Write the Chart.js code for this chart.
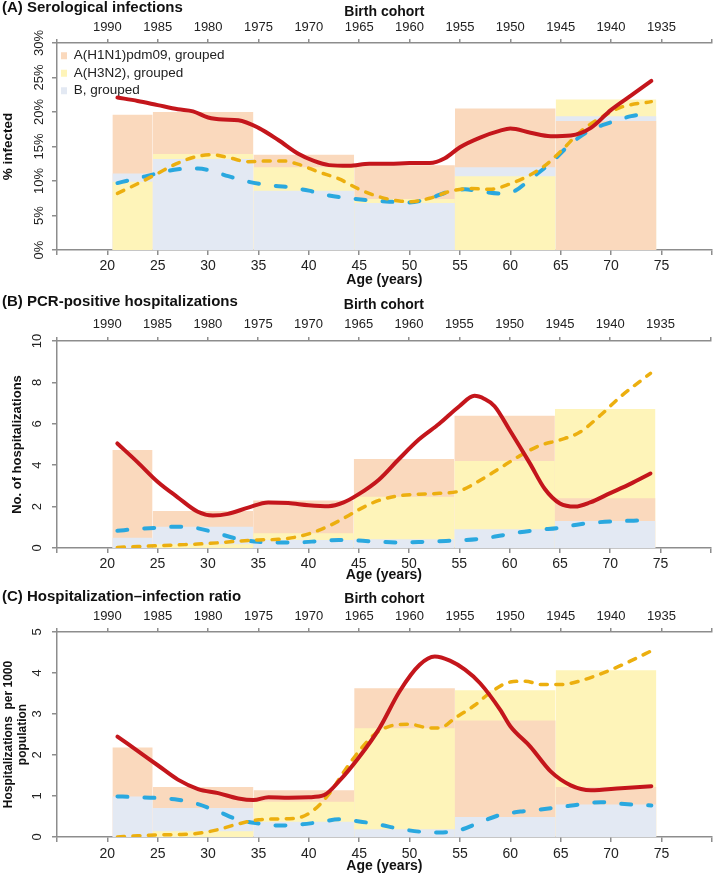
<!DOCTYPE html>
<html>
<head>
<meta charset="utf-8">
<script src="https://cdn.jsdelivr.net/npm/chart.js@4.4.1/dist/chart.umd.min.js"></script>
<style>
  body { margin: 0; background: #fff; }
  #wrap { position: relative; width: 716px; height: 875px; overflow: hidden; }
  #wrap canvas { position: absolute; left: 0; }
</style>
</head>
<body>
<div id="wrap">
  <canvas id="panelA" width="716" height="292" style="top:0px"></canvas>
  <canvas id="panelB" width="716" height="295" style="top:290px"></canvas>
  <canvas id="panelC" width="716" height="295" style="top:580px"></canvas>
</div>
<script>
// Age groups used for the grouped bars (bin edges, years)
const AGE_BIN_EDGES = [20.5, 24.5, 34.5, 44.5, 54.5, 64.5, 74.5];
const AGE_TICKS = [20, 25, 30, 35, 40, 45, 50, 55, 60, 65, 70, 75];
const BIRTH_TICKS = [1990, 1985, 1980, 1975, 1970, 1965, 1960, 1955, 1950, 1945, 1940, 1935];
const SERIES_NAMES = ['A(H1N1)pdm09, grouped', 'A(H3N2), grouped', 'B, grouped'];

// (A) Serological infections, %
const SERO_Y_TICKS = [0, 5, 10, 15, 20, 25, 30];
const SERO_H1N1_BARS = [19.6, 20.0, 13.8, 12.3, 20.5, 18.7];
const SERO_H3N2_BARS = [9.9, 13.9, 12.0, 7.4, 10.7, 21.8];
const SERO_B_BARS = [11.1, 13.2, 8.6, 6.8, 12.0, 19.4];
const SERO_H1N1_AGE = [21, 23, 25, 27, 28.5, 30, 31.5, 33, 35, 37, 39, 40.5, 42, 44, 46, 48, 50, 52, 53.5, 55, 57, 59, 60, 62, 64, 66, 68, 70, 72, 74];
const SERO_H1N1_LINE = [22.1, 21.6, 21.0, 20.4, 20.1, 19.2, 18.9, 18.8, 17.7, 15.9, 13.9, 12.9, 12.3, 12.2, 12.5, 12.5, 12.6, 12.6, 13.3, 14.9, 16.3, 17.3, 17.6, 17.0, 16.5, 16.6, 17.7, 20.3, 22.4, 24.5];
const SERO_H3N2_AGE = [21, 23, 25, 27, 29, 30.5, 32, 34, 36, 37.5, 39, 41, 43, 45, 47, 49, 50, 52, 54, 56, 58, 60, 62, 63.5, 65, 67, 69, 71, 74];
const SERO_H3N2_LINE = [8.2, 9.6, 11.1, 12.6, 13.6, 13.8, 13.4, 12.8, 12.9, 12.9, 12.4, 11.3, 10.3, 8.8, 7.7, 7.1, 7.0, 7.5, 8.5, 8.9, 8.8, 9.6, 10.9, 12.3, 14.3, 17.2, 19.2, 20.7, 21.5];
const SERO_B_AGE = [21, 23, 25, 27, 29, 30, 32, 34, 36, 38, 40, 42, 44, 46, 48, 50, 52, 54, 55.5, 57, 59, 60.5, 62, 64, 66, 68, 70, 72, 73.5];
const SERO_B_LINE = [9.7, 10.4, 11.1, 11.7, 11.8, 11.6, 10.7, 9.9, 9.4, 9.1, 8.6, 7.9, 7.5, 7.2, 7.0, 6.9, 7.5, 8.5, 8.8, 8.5, 8.2, 8.6, 10.3, 12.6, 15.4, 17.4, 18.5, 19.4, 19.7];

// (B) PCR-positive hospitalizations, counts
const HOSP_Y_TICKS = [0, 2, 4, 6, 8, 10];
const HOSP_H1N1_BARS = [4.73, 1.79, 2.29, 4.3, 6.39, 2.4];
const HOSP_H3N2_BARS = [0.0, 0.18, 0.71, 2.48, 4.2, 6.71];
const HOSP_B_BARS = [0.5, 1.03, 0.39, 0.42, 0.9, 1.3];
const HOSP_H1N1_AGE = [21, 23, 25, 27, 29, 30.5, 32, 34, 36, 38, 40, 42, 43.5, 45, 47, 49, 51, 53, 55, 56.5, 57.5, 58.5, 60, 62, 63.5, 65, 66.5, 68, 70, 72, 74];
const HOSP_H1N1_LINE = [5.05, 4.15, 3.2, 2.45, 1.75, 1.57, 1.65, 1.95, 2.2, 2.17, 2.07, 2.02, 2.2, 2.6, 3.3, 4.3, 5.25, 6.0, 6.85, 7.35, 7.2, 6.85, 5.7, 4.1, 2.85, 2.15, 2.0, 2.2, 2.65, 3.1, 3.6];
const HOSP_H3N2_AGE = [21, 23, 25, 27, 29, 31, 33, 35, 37, 39, 41, 43, 45, 47, 49, 51, 53, 55, 57, 59, 61, 63, 65, 67, 69, 71, 74];
const HOSP_H3N2_LINE = [0.03, 0.07, 0.11, 0.15, 0.19, 0.25, 0.33, 0.39, 0.42, 0.55, 0.85, 1.3, 1.85, 2.3, 2.52, 2.6, 2.64, 2.75, 3.25, 3.85, 4.45, 4.95, 5.22, 5.6, 6.4, 7.3, 8.44];
const HOSP_B_AGE = [21, 23, 25, 27, 29, 31, 33, 35, 37, 39, 41, 43, 45, 47, 49, 51, 53, 55, 57, 59, 61, 63, 65, 67, 69, 71, 73];
const HOSP_B_LINE = [0.83, 0.92, 0.98, 1.03, 0.95, 0.7, 0.44, 0.3, 0.26, 0.27, 0.33, 0.39, 0.36, 0.3, 0.27, 0.29, 0.33, 0.37, 0.44, 0.59, 0.76, 0.88, 0.98, 1.15, 1.25, 1.3, 1.33];

// (C) Hospitalization-infection ratio, per 1000
const RATIO_Y_TICKS = [0, 1, 2, 3, 4, 5];
const RATIO_H1N1_BARS = [2.18, 1.22, 1.14, 3.63, 2.84, 1.22];
const RATIO_H3N2_BARS = [0.0, 0.14, 0.86, 2.65, 3.58, 4.07];
const RATIO_B_BARS = [0.99, 0.71, 0.37, 0.19, 0.49, 0.79];
const RATIO_H1N1_AGE = [21, 23, 25, 27, 29, 31, 33, 34.5, 36, 38, 40, 41.5, 43, 45, 47, 49, 51, 52.5, 54, 55.5, 57, 59, 60, 62, 64, 66, 68, 71, 74];
const RATIO_H1N1_LINE = [2.45, 2.1, 1.75, 1.4, 1.17, 1.07, 0.94, 0.9, 0.97, 0.96, 0.97, 1.02, 1.36, 1.95, 2.65, 3.55, 4.2, 4.4, 4.3, 4.08, 3.75, 3.1, 2.7, 2.2, 1.6, 1.26, 1.14, 1.19, 1.24];
const RATIO_H3N2_AGE = [21, 23, 25, 27, 29, 31, 33, 35, 37, 39, 40.5, 42, 43.5, 45, 46.5, 48, 50, 52, 53, 54.5, 56.5, 58, 60, 61.5, 63, 65, 67.5, 70, 72, 74];
const RATIO_H3N2_LINE = [0.0, 0.03, 0.05, 0.06, 0.09, 0.18, 0.32, 0.42, 0.44, 0.47, 0.66, 1.05, 1.6, 2.1, 2.5, 2.7, 2.75, 2.66, 2.66, 2.9, 3.22, 3.52, 3.78, 3.8, 3.72, 3.72, 3.85, 4.08, 4.3, 4.54];
const RATIO_B_AGE = [21, 23, 25, 27, 29, 31, 33, 35, 37, 39, 41, 43, 45, 47, 49, 51, 53, 55, 57, 59, 61, 63, 65, 67, 69, 71, 74];
const RATIO_B_LINE = [0.99, 0.97, 0.95, 0.91, 0.8, 0.62, 0.42, 0.33, 0.28, 0.3, 0.36, 0.43, 0.38, 0.3, 0.2, 0.13, 0.11, 0.17, 0.36, 0.54, 0.62, 0.67, 0.73, 0.8, 0.85, 0.81, 0.77];

const BAR_COLORS = ['#FAD9BD', '#FEF4B9', '#E3E9F3'];
const LINE_COLORS = ['#C4161C', '#ECAF0F', '#2AA8DF'];
const LINE_WIDTHS = [4, 3.5, 4];
const LINE_DASHES = [[], [7, 8.5], [10, 17]];
const AXIS_GREY = '#8d8d8d';

Chart.defaults.font.family = '"Liberation Sans", Arial, sans-serif';
Chart.defaults.color = '#222';

function toPoints(ages, vals) {
    return ages.map((a, i) => ({ x: a, y: vals[i] }));
}

// one filled rectangle per age group and series; in each group the tallest sits at the back
function barDatasets(bars) {
    const sets = [];
    for (let i = 0; i < AGE_BIN_EDGES.length - 1; i++) {
        const vals = bars.map(b => b[i]);
        const ranked = vals.map((v, s) => s).sort((a, b) => vals[a] - vals[b]);
        bars.forEach((b, s) => {
            sets.push({
                label: SERIES_NAMES[s],
                seriesIdx: s,
                inLegend: i === 0,
                data: [{ x: AGE_BIN_EDGES[i], y: b[i] }, { x: AGE_BIN_EDGES[i + 1], y: b[i] }],
                backgroundColor: BAR_COLORS[s],
                borderColor: 'rgba(0,0,0,0)',
                borderWidth: 0,
                pointRadius: 0,
                fill: 'origin',
                order: 10 + ranked.indexOf(s)
            });
        });
    }
    return sets;
}

function lineDatasets(lines) {
    return lines.map((pts, s) => ({
        label: SERIES_NAMES[s],
        seriesIdx: s,
        inLegend: false,
        data: pts,
        borderColor: LINE_COLORS[s],
        borderWidth: LINE_WIDTHS[s],
        borderDash: LINE_DASHES[s],
        borderCapStyle: 'round',
        borderJoinStyle: 'round',
        pointRadius: 0,
        fill: false,
        cubicInterpolationMode: 'monotone',
        order: s
    }));
}

// move the legend into the top-left corner of the plot area
const legendInPlot = {
    id: 'legendInPlot',
    afterLayout(chart) {
        const lg = chart.legend;
        if (!lg || !lg.options.display) return;
        const area = chart.chartArea;
        lg.left = area.left;
        lg.right = lg.left + lg.width;
        lg.top = area.top + 2;
        lg.bottom = area.bottom;
    }
};

function makePanel(id, p) {
    const yTicks = p.yTicks;
    new Chart(document.getElementById(id), {
        type: 'line',
        data: { datasets: [...lineDatasets(p.lines), ...barDatasets(p.bars)] },
        options: {
            responsive: false,
            animation: false,
            events: [],
            devicePixelRatio: 1,
            layout: { padding: { left: 2, right: 3, top: 0, bottom: 0 } },
            plugins: {
                title: {
                    display: true,
                    text: p.title,
                    align: 'start',
                    color: '#111',
                    font: { size: 15, weight: 'bold' },
                    padding: p.titlePad
                },
                legend: {
                    display: !!p.legend,
                    position: 'chartArea',
                    align: 'start',
                    labels: {
                        boxWidth: 6,
                        boxHeight: 7,
                        padding: 4,
                        color: '#222',
                        font: { size: 13.5 },
                        filter: (item, data) => data.datasets[item.datasetIndex].inLegend,
                        sort: (a, b, data) => data.datasets[a.datasetIndex].seriesIdx - data.datasets[b.datasetIndex].seriesIdx
                    }
                },
                tooltip: { enabled: false }
            },
            scales: {
                x: {
                    type: 'linear',
                    position: 'bottom',
                    min: 15,
                    max: 80,
                    afterFit: s => { s.height = p.bottomH; },
                    border: { display: true, color: AXIS_GREY, width: 1.5 },
                    grid: { drawOnChartArea: false, tickLength: 5, color: AXIS_GREY, lineWidth: 1.5 },
                    ticks: {
                        stepSize: 5, maxRotation: 0, autoSkip: false,
                        padding: p.bottomTickPad, font: { size: 14 }, color: '#222',
                        callback: v => AGE_TICKS.includes(v) ? String(v) : ''
                    },
                    title: {
                        display: true, text: 'Age (years)', color: '#111',
                        font: { size: 14, weight: 'bold' },
                        padding: { top: 0, bottom: p.bottomTitlePad }
                    }
                },
                x2: {
                    type: 'linear',
                    position: 'top',
                    min: 1930,
                    max: 1995,
                    reverse: true,
                    afterFit: s => { s.height = p.topH; },
                    border: { display: true, color: AXIS_GREY, width: 1.5 },
                    grid: { drawOnChartArea: false, tickLength: 4, color: AXIS_GREY, lineWidth: 1.5 },
                    ticks: {
                        stepSize: 5, maxRotation: 0, autoSkip: false,
                        padding: p.topTickPad, font: { size: 13 }, color: '#222',
                        callback: v => BIRTH_TICKS.includes(v) ? String(v) : ''
                    },
                    title: {
                        display: true, text: 'Birth cohort', color: '#111',
                        font: { size: 14, weight: 'bold' },
                        padding: { top: p.topTitlePad, bottom: 0 }
                    }
                },
                y: {
                    type: 'linear',
                    min: yTicks[0],
                    max: yTicks[yTicks.length - 1],
                    afterFit: s => { s.width = 55; },
                    border: { display: true, color: AXIS_GREY, width: 1.5 },
                    grid: { drawOnChartArea: false, tickLength: 5, color: AXIS_GREY, lineWidth: 1.5 },
                    ticks: {
                        stepSize: yTicks[1] - yTicks[0],
                        minRotation: 90, maxRotation: 90, crossAlign: 'center',
                        padding: p.yTickPad, font: { size: 13 }, color: '#222',
                        callback: v => yTicks.includes(v) ? v + p.ySuffix : ''
                    },
                    title: {
                        display: true, text: p.yTitle, color: '#111',
                        font: { size: p.yTitleSize, weight: 'bold', lineHeight: 1.2 },
                        padding: { top: p.yTitlePad, bottom: 0 }
                    }
                }
            }
        },
        plugins: [legendInPlot]
    });
}

makePanel('panelA', {
    title: '(A) Serological infections',
    titlePad: { top: -1, bottom: -17 },
    legend: true,
    yTicks: SERO_Y_TICKS, ySuffix: '%',
    yTitle: '% infected', yTitleSize: 13.5, yTitlePad: -2.1, yTickPad: 0,
    topH: 43, topTitlePad: 3.6, topTickPad: 4.2,
    bottomH: 42, bottomTickPad: 2.6, bottomTitlePad: 3.6,
    bars: [SERO_H1N1_BARS, SERO_H3N2_BARS, SERO_B_BARS],
    lines: [toPoints(SERO_H1N1_AGE, SERO_H1N1_LINE), toPoints(SERO_H3N2_AGE, SERO_H3N2_LINE), toPoints(SERO_B_AGE, SERO_B_LINE)]
});

makePanel('panelB', {
    title: '(B) PCR-positive hospitalizations',
    titlePad: { top: 3, bottom: -21 },
    legend: false,
    yTicks: HOSP_Y_TICKS, ySuffix: '',
    yTitle: 'No. of hospitalizations', yTitleSize: 13, yTitlePad: 7.2, yTickPad: 7.5,
    topH: 51, topTitlePad: 6.6, topTickPad: 5.2,
    bottomH: 37, bottomTickPad: 2.6, bottomTitlePad: 1.6,
    bars: [HOSP_H1N1_BARS, HOSP_H3N2_BARS, HOSP_B_BARS],
    lines: [toPoints(HOSP_H1N1_AGE, HOSP_H1N1_LINE), toPoints(HOSP_H3N2_AGE, HOSP_H3N2_LINE), toPoints(HOSP_B_AGE, HOSP_B_LINE)]
});

makePanel('panelC', {
    title: '(C) Hospitalization\u2013infection ratio',
    titlePad: { top: 8, bottom: -26 },
    legend: false,
    yTicks: RATIO_Y_TICKS, ySuffix: '',
    yTitle: ['Hospitalizations  per 1000', 'population'], yTitleSize: 12, yTitlePad: -0.7, yTickPad: 11,
    topH: 52, topTitlePad: 10.6, topTickPad: 4.2,
    bottomH: 38, bottomTickPad: 3.6, bottomTitlePad: 0.6,
    bars: [RATIO_H1N1_BARS, RATIO_H3N2_BARS, RATIO_B_BARS],
    lines: [toPoints(RATIO_H1N1_AGE, RATIO_H1N1_LINE), toPoints(RATIO_H3N2_AGE, RATIO_H3N2_LINE), toPoints(RATIO_B_AGE, RATIO_B_LINE)]
});
</script>
</body>
</html>
